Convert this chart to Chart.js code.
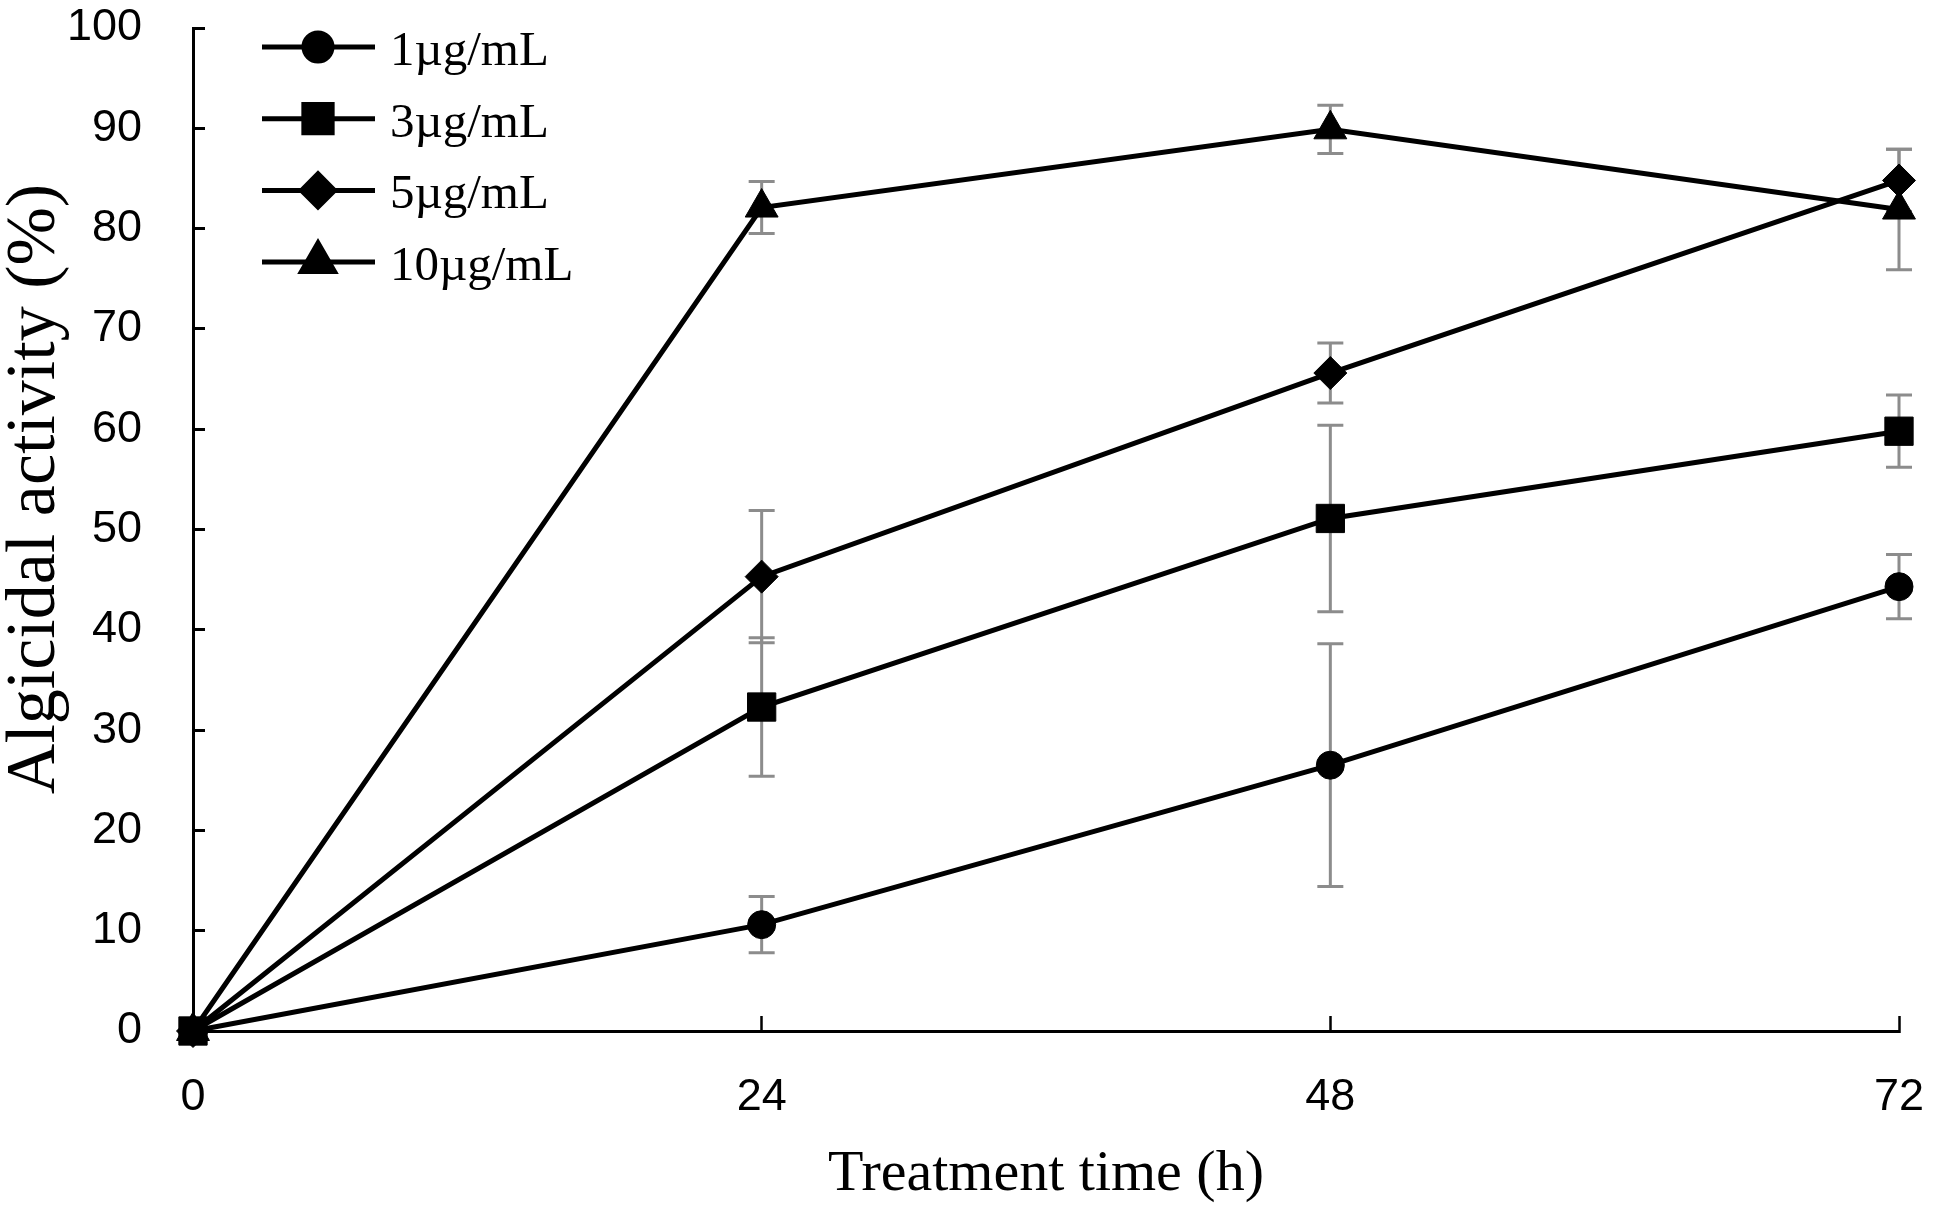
<!DOCTYPE html>
<html>
<head>
<meta charset="utf-8">
<title>Algicidal activity</title>
<script src="https://cdn.jsdelivr.net/npm/chart.js@4.4.1/dist/chart.umd.min.js"></script>
<style>
  html, body { margin: 0; padding: 0; background: #fff; }
  #wrap { width: 1933px; height: 1208px; position: relative; }
</style>
</head>
<body>
<div id="wrap"><canvas id="myChart"></canvas></div>
<script>
'use strict';

// Treatment time (h)
const hours = [0, 24, 48, 72];

// Series names
const seriesNames = ['1\u00b5g/mL', '3\u00b5g/mL', '5\u00b5g/mL', '10\u00b5g/mL'];

// Mean algicidal activity (%)
const conc1 = [0, 10.6, 26.5, 44.3];
const conc3 = [0, 32.3, 51.1, 59.8];
const conc5 = [0, 45.3, 65.6, 84.8];
const conc10 = [0, 82.1, 89.9, 81.9];

// Error bars (+/-)
const err1 = [0, 2.8, 12.1, 3.2];
const err3 = [0, 6.9, 9.3, 3.6];
const err5 = [0, 6.6, 3.0, 3.1];
const err10 = [0, 2.6, 2.4, 6.0];

// Axis ticks
const xTicks = [0, 24, 48, 72];
const yMin = 0;
const yMax = 100;
const yStep = 10;

const seriesValues = [conc1, conc3, conc5, conc10];
const seriesErrors = [err1, err3, err5, err10];
const markers = [
  {style: 'circle', radius: 14},
  {style: 'rect', radius: 20},
  {style: 'rectRot', radius: 16.5},
  {style: 'triangle', radius: 19}
];

// draws a point symbol, uses Chart.js helper when available
function drawMarker(ctx, style, radius, x, y) {
  if (Chart.helpers && Chart.helpers.drawPoint) {
    Chart.helpers.drawPoint(ctx, {pointStyle: style, radius: radius, rotation: 0, borderWidth: 1}, x, y);
    return;
  }
  ctx.beginPath();
  ctx.arc(x, y, radius, 0, Math.PI * 2);
  ctx.fill();
}

// grey error bars behind the lines
const errorBars = {
  id: 'errorBars',
  beforeDatasetsDraw(chart) {
    const {ctx, scales} = chart;
    ctx.save();
    ctx.strokeStyle = '#8c8c8c';
    ctx.lineWidth = 3;
    chart.data.datasets.forEach((ds, i) => {
      const errs = seriesErrors[i];
      ds.data.forEach((p, j) => {
        const e = errs[j];
        if (!e) return;
        const px = scales.x.getPixelForValue(p.x);
        const top = scales.y.getPixelForValue(p.y + e);
        const bot = scales.y.getPixelForValue(p.y - e);
        ctx.beginPath();
        ctx.moveTo(px, top);
        ctx.lineTo(px, bot);
        ctx.moveTo(px - 13, top);
        ctx.lineTo(px + 13, top);
        ctx.moveTo(px - 13, bot);
        ctx.lineTo(px + 13, bot);
        ctx.stroke();
      });
    });
    ctx.restore();
  }
};

// legend with line + marker, inside the plot at top left
const lineLegend = {
  id: 'lineLegend',
  afterDraw(chart) {
    const ctx = chart.ctx;
    const area = chart.chartArea;
    ctx.save();
    chart.data.datasets.forEach((ds, i) => {
      const yy = area.top + 19 + i * 71.7;
      ctx.strokeStyle = '#000';
      ctx.fillStyle = '#000';
      ctx.lineWidth = 5;
      ctx.beginPath();
      ctx.moveTo(area.left + 69, yy);
      ctx.lineTo(area.left + 182, yy);
      ctx.stroke();
      drawMarker(ctx, ds.pointStyle, ds.pointRadius, area.left + 125, yy);
      ctx.font = '49px "Liberation Serif", "Times New Roman", serif';
      ctx.textAlign = 'left';
      ctx.textBaseline = 'alphabetic';
      ctx.fillText(ds.label, area.left + 197, yy + 18);
    });
    ctx.restore();
  }
};

// rotated y axis title
const yTitle = {
  id: 'yTitle',
  afterDraw(chart) {
    const ctx = chart.ctx;
    const area = chart.chartArea;
    ctx.save();
    ctx.translate(area.left - 157, area.top + 461);
    ctx.rotate(-Math.PI / 2);
    ctx.font = '70px "Liberation Serif", "Times New Roman", serif';
    ctx.fillStyle = '#000';
    ctx.textAlign = 'center';
    ctx.textBaseline = 'middle';
    ctx.fillText('Algicidal activity (%)', 0, 0);
    ctx.restore();
  }
};

const datasets = seriesNames.map((name, i) => ({
  label: name,
  data: hours.map((h, j) => ({x: h, y: seriesValues[i][j]})),
  borderColor: '#000',
  backgroundColor: '#000',
  borderWidth: 5,
  pointStyle: markers[i].style,
  pointRadius: markers[i].radius,
  pointHoverRadius: markers[i].radius,
  pointBackgroundColor: '#000',
  pointBorderColor: '#000',
  pointBorderWidth: 1,
  tension: 0,
  fill: false,
  clip: false
}));

const ctx = document.getElementById('myChart').getContext('2d');
const chart = new Chart(ctx, {
  type: 'line',
  data: {datasets: datasets},
  plugins: [errorBars, lineLegend, yTitle],
  options: {
    responsive: true,
    maintainAspectRatio: false,
    animation: false,
    layout: {padding: {top: 28, right: 34, left: 0, bottom: 0}},
    plugins: {
      legend: {display: false},
      tooltip: {enabled: false}
    },
    scales: {
      x: {
        type: 'linear',
        min: xTicks[0],
        max: xTicks[xTicks.length - 1],
        afterBuildTicks(scale) {
          scale.ticks = xTicks.map(v => ({value: v}));
        },
        afterFit(scale) {
          scale.height = 177;
          // the big label padding should not push the plot inwards
          scale.paddingLeft = 0;
          scale.paddingRight = 0;
        },
        border: {display: true, color: '#000', width: 3},
        grid: {
          drawOnChartArea: false,
          drawTicks: true,
          tickLength: -15,
          color: '#000',
          tickColor: '#000',
          tickWidth: 2.5
        },
        ticks: {
          color: '#000',
          padding: 55,
          font: {family: '"Liberation Sans", Arial, sans-serif', size: 45}
        },
        title: {
          display: true,
          text: 'Treatment time (h)',
          color: '#000',
          padding: {top: 0, bottom: 4},
          font: {family: '"Liberation Serif", "Times New Roman", serif', size: 58, lineHeight: 1}
        }
      },
      y: {
        min: yMin,
        max: yMax,
        afterFit(scale) {
          scale.width = 193;
          scale.paddingTop = 0;
          scale.paddingBottom = 0;
        },
        border: {display: true, color: '#000', width: 3},
        grid: {
          drawOnChartArea: false,
          drawTicks: true,
          tickLength: -12,
          color: '#000',
          tickColor: '#000',
          tickWidth: 3
        },
        ticks: {
          stepSize: yStep,
          color: '#000',
          padding: 63,
          font: {family: '"Liberation Sans", Arial, sans-serif', size: 45}
        }
      }
    }
  }
});
</script>
</body>
</html>
